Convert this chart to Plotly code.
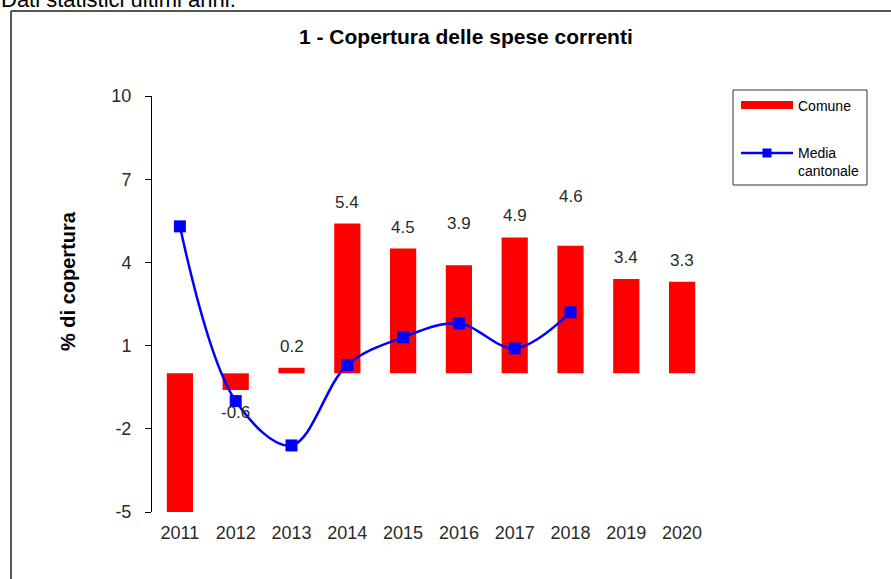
import plotly.graph_objects as go

# ---- data ----
YEARS = ["2011", "2012", "2013", "2014", "2015", "2016", "2017", "2018", "2019", "2020"]
COMUNE = [-5.0, -0.6, 0.2, 5.4, 4.5, 3.9, 4.9, 4.6, 3.4, 3.3]
MEDIA_CANTONALE = [5.3, -1.0, -2.6, 0.3, 1.3, 1.8, 0.9, 2.2, None, None]
Y_TICKS = [-5, -2, 1, 4, 7, 10]
Y_TICK_LABELS = ["-5", "-2", "1", "4", "7", "10"]
TITLE = "1 - Copertura delle spese correnti"
Y_TITLE = "% di copertura"
HEADER = "Dati statistici ultimi anni."

# ---- style ----
W, H = 891, 579
L, R, T, B = 152, 710, 96, 512
Y_MIN, Y_MAX = -5, 10
LABEL_EXTRA = [0, 0, 0, 0, 0, 20, 0, 28, 0, 0]
FONT = "Liberation Sans, Arial, sans-serif"
TXT = "#2a2a2a"


def px(x):
    return (x - L) / (R - L)


def py(y):
    return (B - y) / (B - T)


fig = go.Figure()

fig.add_trace(go.Bar(
    x=YEARS, y=COMUNE, name="Comune", marker=dict(color="#ff0000", line=dict(width=0)),
    width=0.47, showlegend=False,
))

fig.add_trace(go.Scatter(
    x=YEARS, y=MEDIA_CANTONALE, name="Media cantonale", mode="lines+markers",
    line=dict(color="#0000ff", width=2.5, shape="spline", smoothing=1),
    marker=dict(symbol="square", size=12, color="#0000ff"),
    showlegend=False, connectgaps=False,
))

annotations = []
for i, (yr, v) in enumerate(zip(YEARS, COMUNE)):
    if v <= Y_MIN:
        continue
    if v >= 0:
        annotations.append(dict(x=i, y=v, xref="x", yref="y", text=f"{v:.1f}", showarrow=False,
                                yanchor="bottom", yshift=10 + LABEL_EXTRA[i],
                                font=dict(family=FONT, size=17, color=TXT)))
    else:
        annotations.append(dict(x=i, y=v, xref="x", yref="y", text=f"{v:.1f}", showarrow=False,
                                yanchor="top", yshift=-11 - LABEL_EXTRA[i],
                                font=dict(family=FONT, size=17, color=TXT)))

# title
annotations.append(dict(x=px(466), y=py(37), xref="paper", yref="paper", text=f"<b>{TITLE}</b>",
                        showarrow=False, xanchor="center", yanchor="middle",
                        font=dict(family=FONT, size=21, color="#000000")))
# y-axis title
annotations.append(dict(x=px(68), y=py(281), xref="paper", yref="paper", text=f"<b>{Y_TITLE}</b>",
                        showarrow=False, textangle=-90, xanchor="center", yanchor="middle",
                        font=dict(family=FONT, size=20, color="#000000")))
# header (cut off at top, as in the source)
annotations.append(dict(x=px(-1), y=py(14), xref="paper", yref="paper", text=HEADER,
                        showarrow=False, xanchor="left", yanchor="bottom",
                        font=dict(family=FONT, size=22, color="#000000")))

# manual legend
annotations.append(dict(x=px(796), y=py(106), xref="paper", yref="paper", text="Comune",
                        showarrow=False, xanchor="left", yanchor="middle",
                        font=dict(family=FONT, size=14, color="#000000")))
annotations.append(dict(x=px(796), y=py(162), xref="paper", yref="paper", text="Media<br>cantonale",
                        showarrow=False, xanchor="left", yanchor="middle", align="left",
                        font=dict(family=FONT, size=14, color="#000000")))

shapes = [
    # frame
    dict(type="line", xref="paper", yref="paper", x0=px(11), y0=py(11), x1=px(900), y1=py(11),
         line=dict(color="#555555", width=2)),
    dict(type="line", xref="paper", yref="paper", x0=px(11), y0=py(11), x1=px(11), y1=py(600),
         line=dict(color="#555555", width=2)),
    # legend box
    dict(type="rect", xref="paper", yref="paper", x0=px(733), y0=py(185), x1=px(867), y1=py(90),
         line=dict(color="#333333", width=1), fillcolor="rgba(0,0,0,0)"),
    dict(type="line", xref="paper", yref="paper", x0=px(741), y0=py(105), x1=px(793), y1=py(105),
         line=dict(color="#ff0000", width=8)),
    dict(type="line", xref="paper", yref="paper", x0=px(741), y0=py(153), x1=px(793), y1=py(153),
         line=dict(color="#0000ff", width=2.5)),
    dict(type="rect", xref="paper", yref="paper", x0=px(762.5), y0=py(157.5), x1=px(771.5), y1=py(148.5),
         line=dict(width=0), fillcolor="#0000ff"),
]

zero_pos = (0 - Y_MIN) / (Y_MAX - Y_MIN)
boundaries = [i - 0.5 for i in range(len(YEARS) + 1)]

fig.update_layout(
    width=W, height=H,
    margin=dict(l=L, r=W - R, t=T, b=H - B, pad=0),
    paper_bgcolor="white", plot_bgcolor="white",
    font=dict(family=FONT, color=TXT),
    xaxis=dict(type="category", categoryorder="array", categoryarray=YEARS,
               range=[-0.5, len(YEARS) - 0.5], showline=False, ticks="",
               showticklabels=True, showgrid=False, zeroline=False, ticklabelstandoff=8,
               tickfont=dict(family=FONT, size=18, color=TXT), fixedrange=True),
    xaxis2=dict(type="linear", range=[-0.5, len(YEARS) - 0.5], overlaying="x",
                anchor="free", position=zero_pos, showline=True, linecolor="#000000", linewidth=1,
                ticks="outside", tickmode="array", tickvals=boundaries, ticklen=6,
                tickcolor="#000000", showticklabels=False, showgrid=False, zeroline=False,
                fixedrange=True),
    yaxis=dict(range=[Y_MIN, Y_MAX], tickmode="array", tickvals=Y_TICKS, ticktext=Y_TICK_LABELS,
               showline=True, linecolor="#000000", linewidth=1, ticks="outside", ticklen=6,
               tickcolor="#000000", showgrid=False, zeroline=False, ticklabelstandoff=10,
               tickfont=dict(family=FONT, size=18, color=TXT), fixedrange=True),
    annotations=annotations,
    shapes=shapes,
    showlegend=False,
)

fig.write_html("out.html", config={"displayModeBar": False},
               post_script="document.body.style.margin='0';document.body.style.padding='0';")
